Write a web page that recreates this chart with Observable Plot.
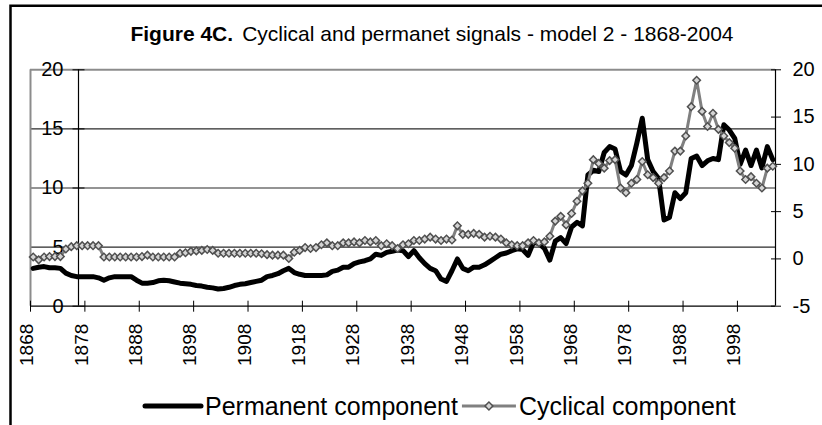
<!DOCTYPE html>
<html>
<head>
<meta charset="utf-8">
<script src="https://cdn.jsdelivr.net/npm/d3@7"></script>
<script src="https://cdn.jsdelivr.net/npm/@observablehq/plot@0.6"></script>
<style>
  body { margin: 0; background: #fff; }
  #wrap { position: relative; width: 822px; height: 425px; overflow: hidden; background: #fff; }
  #chart { position: absolute; left: 0; top: 0; }
  #overlay { position: absolute; left: 0; top: 0; pointer-events: none; font-family: "Liberation Sans", Arial, sans-serif; }
</style>
</head>
<body>
<div id="wrap">
  <div id="chart"></div>
  <svg id="overlay" width="822" height="425"></svg>
</div>
<script>
// ---------------- data ----------------
const startYear = 1868;
const endYear = 2004;

// Permanent component (left axis), 1868-2004
const permanent = [
  3.2, 3.3, 3.35, 3.25, 3.25, 3.2, 2.8, 2.6, 2.5, 2.5,          // 1868-1877
  2.5, 2.5, 2.4, 2.2, 2.4, 2.5, 2.5, 2.5, 2.5, 2.2,             // 1878-1887
  1.95, 1.95, 2.0, 2.15, 2.2, 2.15, 2.05, 1.95, 1.9, 1.85,      // 1888-1897
  1.75, 1.7, 1.6, 1.55, 1.45, 1.5, 1.6, 1.75, 1.85, 1.9,        // 1898-1907
  2.0, 2.1, 2.2, 2.5, 2.6, 2.75, 3.0, 3.2, 2.85, 2.7,           // 1908-1917
  2.6, 2.6, 2.6, 2.6, 2.65, 2.95, 3.05, 3.3, 3.3, 3.6,          // 1918-1927
  3.75, 3.85, 4.0, 4.4, 4.3, 4.55, 4.65, 4.75, 4.7, 4.2,        // 1928-1937
  4.7, 4.1, 3.6, 3.2, 3.0, 2.3, 2.1, 3.0, 4.0, 3.2,             // 1938-1947
  3.0, 3.3, 3.3, 3.5, 3.8, 4.1, 4.4, 4.5, 4.7, 4.85,            // 1948-1957
  4.8, 4.3, 5.4, 5.3, 4.9, 3.9, 5.5, 5.8, 5.3, 6.7,             // 1958-1967
  7.1, 6.8, 11.1, 11.5, 11.4, 13.0, 13.5, 13.3, 11.4, 11.1,     // 1968-1977
  11.9, 13.8, 15.9, 12.4, 11.4, 10.8, 7.3, 7.5, 9.6, 9.1,       // 1978-1987
  9.6, 12.5, 12.7, 11.9, 12.3, 12.5, 12.4, 15.35, 14.9, 14.2,   // 1988-1997
  12.0, 13.2, 11.9, 13.2, 11.7, 13.5, 12.4                      // 1998-2004
];

// Cyclical component (right axis), 1868-2004
const cyclical = [
  0.2, -0.1, 0.2, 0.25, 0.25, 0.25, 1.05, 1.3, 1.4, 1.4,        // 1868-1877
  1.4, 1.4, 1.4, 0.2, 0.2, 0.2, 0.2, 0.2, 0.2, 0.2,             // 1878-1887
  0.25, 0.4, 0.2, 0.2, 0.2, 0.2, 0.2, 0.6, 0.65, 0.8,           // 1888-1897
  0.85, 0.9, 1.0, 0.9, 0.6, 0.6, 0.6, 0.6, 0.6, 0.6,            // 1898-1907
  0.6, 0.6, 0.55, 0.45, 0.4, 0.4, 0.4, 0.05, 0.7, 0.9,          // 1908-1917
  1.2, 1.1, 1.2, 1.5, 1.7, 1.4, 1.4, 1.7, 1.7, 1.8,             // 1918-1927
  1.7, 1.95, 1.8, 1.95, 1.4, 1.6, 1.4, 1.1, 1.5, 1.6,           // 1928-1937
  1.95, 1.95, 2.1, 2.3, 2.1, 1.95, 2.1, 2.0, 3.5, 2.6,          // 1938-1947
  2.6, 2.7, 2.6, 2.3, 2.4, 2.3, 2.1, 1.7, 1.5, 1.4,             // 1948-1957
  1.4, 1.7, 1.95, 1.7, 1.8, 2.4, 4.0, 4.5, 3.6, 4.8,            // 1958-1967
  6.1, 7.2, 8.0, 10.5, 10.1, 9.6, 10.4, 10.5, 7.5, 7.0,         // 1968-1977
  8.0, 8.4, 10.3, 8.9, 8.6, 8.0, 8.6, 9.3, 11.4, 11.4,          // 1978-1987
  13.0, 16.1, 18.9, 15.6, 14.0, 15.4, 13.7, 13.0, 12.3, 11.7,   // 1988-1997
  9.3, 8.4, 8.7, 8.0, 7.5, 9.6, 9.8                             // 1998-2004
];

const tickYears = [1868, 1878, 1888, 1898, 1908, 1918, 1928, 1938, 1948, 1958, 1968, 1978, 1988, 1998];
const leftTicks = [0, 5, 10, 15, 20];
const rightTicks = [-5, 0, 5, 10, 15, 20];
const leftDomain = [0, 20];
const rightDomain = [-5, 20];

const titleBold = "Figure 4C.";
const titleText = "Cyclical and permanet signals - model 2 - 1868-2004";
const seriesNames = ["Permanent component", "Cyclical component"];

// ---------------- build ----------------
const years = permanent.map((_, i) => startYear + i);
const permData = years.map((year, i) => ({year, value: permanent[i]}));
const cycData = years.map((year, i) => ({year, value: cyclical[i]}));

// map secondary (right) axis values onto the primary scale
const toLeft = v => (v - rightDomain[0]) / (rightDomain[1] - rightDomain[0]) * (leftDomain[1] - leftDomain[0]) + leftDomain[0];
const fromLeft = v => (v - leftDomain[0]) / (leftDomain[1] - leftDomain[0]) * (rightDomain[1] - rightDomain[0]) + rightDomain[0];

const font = '"Liberation Sans", Arial, sans-serif';

const chart = Plot.plot({
  width: 822,
  height: 425,
  marginLeft: 30,
  marginRight: 47,
  marginTop: 69.3,
  marginBottom: 119.3,
  x: {domain: [startYear, endYear + 1]},
  y: {domain: leftDomain},
  style: {fontFamily: font, fontSize: "20px", color: "black", background: "transparent", overflow: "visible"},
  marks: [
    // gridlines of primary axis
    Plot.ruleY(leftTicks.filter(d => d > leftDomain[0] && d < leftDomain[1]), {stroke: "#2a2a2a", strokeWidth: 1.2}),
    // plot-area border (grey) top and left
    Plot.ruleY([leftDomain[1]], {stroke: "#8c8c8c", strokeWidth: 2}),
    Plot.ruleX([startYear], {stroke: "#8c8c8c", strokeWidth: 2}),
    // category axis line
    Plot.ruleY([leftDomain[0]], {stroke: "black", strokeWidth: 1.2}),
    // category ticks (crossing)
    Plot.axisX({ticks: tickYears, tickSize: 11, dy: -5, tickFormat: () => "", label: null, stroke: "black"}),
    // category labels, rotated, centred on categories
    Plot.text(tickYears, {x: d => d + 0.5, text: d => String(d), frameAnchor: "bottom", rotate: -90, textAnchor: "end", dy: 17.5, fontSize: 19, fill: "black"}),
    // primary axis (left)
    Plot.ruleX([startYear], {dx: 48, stroke: "black", strokeWidth: 1.2}),
    Plot.axisY({ticks: leftTicks, tickSize: 12, dx: 54.5, tickPadding: 9.5, fontSize: 20, label: null, tickFormat: d => String(d), stroke: "black"}),
    // secondary axis (right)
    Plot.ruleX([endYear + 1], {stroke: "black", strokeWidth: 1.2}),
    Plot.axisY({anchor: "right", ticks: rightTicks.map(toLeft), tickSize: 10, dx: -5, tickPadding: 12, fontSize: 20, label: null,
      tickFormat: d => String(Math.round(fromLeft(d))), stroke: "black"}),
    // series
    Plot.line(permData, {x: d => d.year + 0.5, y: "value", stroke: "black", strokeWidth: 5, strokeLinejoin: "round", strokeLinecap: "round"}),
    Plot.line(cycData, {x: d => d.year + 0.5, y: d => toLeft(d.value), stroke: "#808080", strokeWidth: 3, strokeLinejoin: "round"}),
    Plot.dot(cycData, {x: d => d.year + 0.5, y: d => toLeft(d.value), symbol: "square", rotate: 45, r: 3, fill: "#d4d4d4", stroke: "#505050", strokeWidth: 1.5})
  ]
});
document.getElementById("chart").appendChild(chart);

// ---------------- title, legend, border ----------------
const ns = "http://www.w3.org/2000/svg";
const ov = document.getElementById("overlay");
function el(tag, attrs, text) {
  const e = document.createElementNS(ns, tag);
  for (const k in attrs) e.setAttribute(k, attrs[k]);
  if (text != null) e.textContent = text;
  ov.appendChild(e);
  return e;
}
// outer chart-area border (only top and left visible)
el("path", {d: "M10.5,430 V5.8 H830", fill: "none", stroke: "black", "stroke-width": 2.5});

// title
const t = el("text", {x: 432, y: 40.7, "text-anchor": "middle", "font-size": 21, fill: "black"});
const tb = document.createElementNS(ns, "tspan"); tb.setAttribute("font-weight", "bold"); tb.textContent = titleBold; t.appendChild(tb);
const tr = document.createElementNS(ns, "tspan"); tr.setAttribute("dx", "9"); tr.textContent = titleText; t.appendChild(tr);

// legend
const legY = 406;
el("line", {x1: 145, x2: 201, y1: legY, y2: legY, stroke: "black", "stroke-width": 5, "stroke-linecap": "round"});
const l1 = el("text", {x: 205, y: 415, "font-size": 25, fill: "black"}, seriesNames[0]);
const w1 = l1.getComputedTextLength();
const gx0 = 205 + w1 + 4;
el("line", {x1: gx0, x2: gx0 + 54, y1: legY, y2: legY, stroke: "#808080", "stroke-width": 3});
el("rect", {x: gx0 + 27 - 2.8, y: legY - 2.8, width: 5.6, height: 5.6, transform: `rotate(45 ${gx0 + 27} ${legY})`, fill: "#d4d4d4", stroke: "#505050", "stroke-width": 1.5});
el("text", {x: gx0 + 57, y: 415, "font-size": 25, fill: "black"}, seriesNames[1]);
</script>
</body>
</html>
